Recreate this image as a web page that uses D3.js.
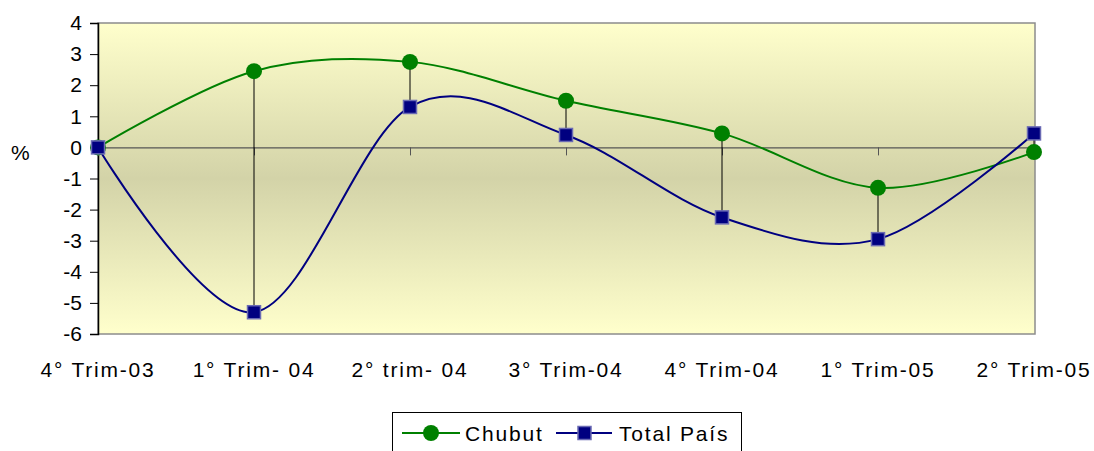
<!DOCTYPE html>
<html>
<head>
<meta charset="utf-8">
<script src="https://cdn.jsdelivr.net/npm/d3@7"></script>
<style>
  body { margin: 0; background: #fff; }
  text { font-family: "Liberation Sans", Arial, sans-serif; fill: #000; }
</style>
</head>
<body>
<div id="chart"></div>
<script>
var categories = ["4° Trim-03", "1° Trim- 04", "2° trim- 04", "3° Trim-04", "4° Trim-04", "1° Trim-05", "2° Trim-05"];
var chubut = [0, 2.45, 2.75, 1.5, 0.45, -1.3, -0.15];
var totalPais = [0, -5.3, 1.3, 0.4, -2.25, -2.95, 0.45];
var yTicks = [4, 3, 2, 1, 0, -1, -2, -3, -4, -5, -6];

(function() {
var width = 1094, height = 451;
var plotLeft = 98, plotRight = 1035, plotTop = 23, plotBottom = 334;

var svg = d3.select("#chart").append("svg")
  .attr("width", width).attr("height", height);

var x = d3.scalePoint().domain(categories).range([plotLeft, 1034]);
var y = d3.scaleLinear().domain([-6, 4]).range([plotBottom, plotTop]);

// background gradient
var grad = svg.append("defs").append("linearGradient")
  .attr("id", "bg").attr("x1", 0).attr("y1", 0).attr("x2", 0).attr("y2", 1);
grad.append("stop").attr("offset", 0).attr("stop-color", "#ffffcc");
grad.append("stop").attr("offset", 0.5).attr("stop-color", "#d3d3a8");
grad.append("stop").attr("offset", 1).attr("stop-color", "#ffffcc");

svg.append("rect")
  .attr("x", plotLeft).attr("y", plotTop)
  .attr("width", plotRight - plotLeft).attr("height", plotBottom - plotTop)
  .attr("fill", "url(#bg)")
  .attr("stroke", "#8c8c8c").attr("stroke-width", 1.5);

// y axis
var yAxis = svg.append("g")
  .attr("transform", "translate(" + plotLeft + ",0)")
  .call(d3.axisLeft(y).tickValues(yTicks).tickSize(8).tickPadding(8)
    .tickFormat(function(d) { return String(d); }));
yAxis.select(".domain").attr("stroke", "#000").attr("stroke-width", 1.5);
yAxis.selectAll(".tick line").attr("stroke", "#000");
yAxis.selectAll("text").style("font-size", "21px").attr("font-family", null);

svg.append("text").attr("x", 11).attr("y", 160).style("font-size", "21px").text("%");

// zero line with category ticks
var xAxis = svg.append("g")
  .attr("transform", "translate(0," + y(0) + ")")
  .call(d3.axisBottom(x).tickSize(8).tickFormat(""));
xAxis.select(".domain").attr("stroke", "#555").attr("stroke-width", 1.2);
xAxis.selectAll(".tick line").attr("stroke", "#555");

// category labels
svg.append("g").selectAll("text")
  .data(categories).enter().append("text")
  .attr("x", function(d) { return x(d); })
  .attr("y", 377)
  .attr("text-anchor", "middle")
  .style("font-size", "21px")
  .style("letter-spacing", "1.8px")
  .text(function(d) { return d; });

// high-low lines
svg.append("g").selectAll("line")
  .data(categories).enter().append("line")
  .attr("x1", function(d) { return x(d); })
  .attr("x2", function(d) { return x(d); })
  .attr("y1", function(d, i) { return y(chubut[i]); })
  .attr("y2", function(d, i) { return y(totalPais[i]); })
  .attr("stroke", "#000").attr("stroke-width", 1);

var line = d3.line()
  .x(function(d, i) { return x(categories[i]); })
  .y(function(d) { return y(d); })
  .curve(d3.curveCardinal.tension(0));

svg.append("path").datum(chubut)
  .attr("d", line).attr("fill", "none")
  .attr("stroke", "#008000").attr("stroke-width", 2);

svg.append("path").datum(totalPais)
  .attr("d", line).attr("fill", "none")
  .attr("stroke", "#000080").attr("stroke-width", 2);

svg.append("g").selectAll("circle")
  .data(chubut).enter().append("circle")
  .attr("cx", function(d, i) { return x(categories[i]); })
  .attr("cy", function(d) { return y(d); })
  .attr("r", 8)
  .attr("fill", "#008000");

svg.append("g").selectAll("rect")
  .data(totalPais).enter().append("rect")
  .attr("x", function(d, i) { return x(categories[i]) - 6.5; })
  .attr("y", function(d) { return y(d) - 6.5; })
  .attr("width", 13).attr("height", 13)
  .attr("fill", "#000080")
  .attr("stroke", "#6a6ab4").attr("stroke-width", 1.5);

// legend
var lg = svg.append("g");
lg.append("rect")
  .attr("x", 392.5).attr("y", 412.5).attr("width", 349).attr("height", 45)
  .attr("fill", "#fff").attr("stroke", "#000").attr("stroke-width", 1);
lg.append("line").attr("x1", 402).attr("x2", 460).attr("y1", 433).attr("y2", 433)
  .attr("stroke", "#008000").attr("stroke-width", 2);
lg.append("circle").attr("cx", 431).attr("cy", 433).attr("r", 8).attr("fill", "#008000");
lg.append("text").attr("x", 465).attr("y", 441).style("font-size", "21px")
  .style("letter-spacing", "1.8px").text("Chubut");
lg.append("line").attr("x1", 556).attr("x2", 612).attr("y1", 433).attr("y2", 433)
  .attr("stroke", "#000080").attr("stroke-width", 2);
lg.append("rect").attr("x", 578).attr("y", 426.5).attr("width", 13).attr("height", 13)
  .attr("fill", "#000080").attr("stroke", "#6a6ab4").attr("stroke-width", 1.5);
lg.append("text").attr("x", 619).attr("y", 441).style("font-size", "21px")
  .style("letter-spacing", "1.8px").text("Total País");
})();
</script>
</body>
</html>
